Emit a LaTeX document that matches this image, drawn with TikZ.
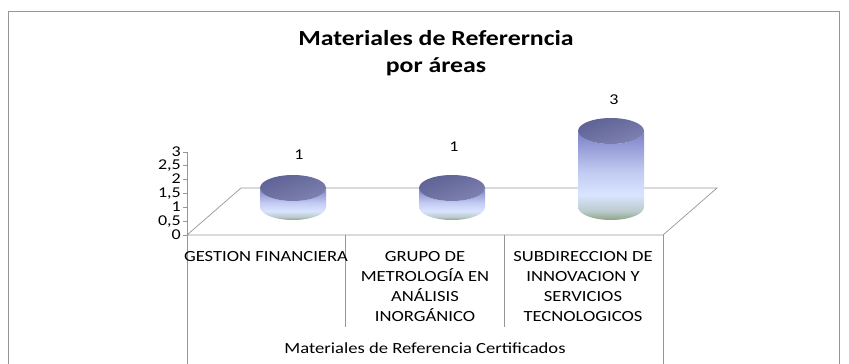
\documentclass[tikz,border=0pt]{standalone}
\usepackage{fontspec}
\setmainfont{Carlito}[FakeStretch=1.2]
\definecolor{capblue}{RGB}{104,108,164}
\definecolor{bartop}{RGB}{122,128,200}
\definecolor{barmid}{RGB}{218,228,255}
\definecolor{barbot}{RGB}{140,164,130}
\definecolor{chartgrey}{RGB}{150,150,150}
\pgfdeclareverticalshading{barshade}{100bp}{color(0bp)=(barbot); color(25bp)=(barbot);
    color(30bp)=(barbot!40!barmid); color(39bp)=(barmid); color(52bp)=(barmid!75!bartop);
    color(75bp)=(bartop); color(100bp)=(bartop)}
\begin{document}
\begin{tikzpicture}[x=1pt,y=-1pt,
    frame/.style={draw=chartgrey,line width=0.9pt},
    chartline/.style={draw=chartgrey,line width=0.7pt},
    ticklbl/.style={font=\fontsize{15}{15}\selectfont,anchor=east,inner sep=0pt,text height=9.5pt,text depth=1.5pt},
    catlbl/.style={font=\fontsize{15.5}{20}\selectfont,align=center,anchor=north,inner sep=0pt},
    vallbl/.style={font=\fontsize{15}{15}\selectfont,inner sep=0pt}]
    \useasboundingbox (0,0) rectangle (849,364);
    \draw[frame] (8,364) -- (8,11) -- (839,11) -- (839,364);
    \node[font=\fontsize{21.5}{27}\selectfont\bfseries,align=center] (title) at (436,53)
        {Materiales de Refererncia\\por áreas};
    % eje de valores
    \draw[chartline] (187,152) -- (187,235);
    \foreach \v/\y in {0/235,{0,5}/221.2,1/207.3,{1,5}/193.5,2/179.7,{2,5}/165.8,3/152}{
        \draw[chartline] (183,\y) -- (187,\y);
        \node[ticklbl] at (181,\y) {\v};
    }
    % piso
    \draw[chartline] (187,235) -- (241,188) -- (717,188) -- (663,235) -- cycle;
    \draw[chartline] (187,235) -- (187,364);
    \draw[chartline] (345,235) -- (345,327);
    \draw[chartline] (504,235) -- (504,327);
    \draw[chartline] (663,235) -- (663,364);
    % cilindros
    \foreach \cx/\ty in {293/188,452/188,611/131}{
        \shade[shading=barshade]
            (\cx-33,\ty) -- (\cx-33,207)
            arc[start angle=180,end angle=0,x radius=33,y radius=13]
            -- (\cx+33,\ty)
            arc[start angle=0,end angle=180,x radius=33,y radius=13] -- cycle;
        \shade[top color=capblue!90!black,bottom color=capblue!85!white,shading angle=20]
            (\cx,\ty) ellipse[x radius=33,y radius=13];
    }
    \node[vallbl] (v1) at (299,155) {1};
    \node[vallbl] (v2) at (454,147) {1};
    \node[vallbl] (v3) at (614,100) {3};
    \node[catlbl] (gestion) at (266,251) {GESTION FINANCIERA};
    \node[catlbl] (grupo) at (425,251) {GRUPO DE\\METROLOGÍA EN\\ANÁLISIS\\INORGÁNICO};
    \node[catlbl] (subdir) at (583,251) {SUBDIRECCION DE\\INNOVACION Y\\SERVICIOS\\TECNOLOGICOS};
    \node[font=\fontsize{15.5}{15.5}\selectfont] (serie) at (425,348) {Materiales de Referencia Certificados};
\end{tikzpicture}
\end{document}
